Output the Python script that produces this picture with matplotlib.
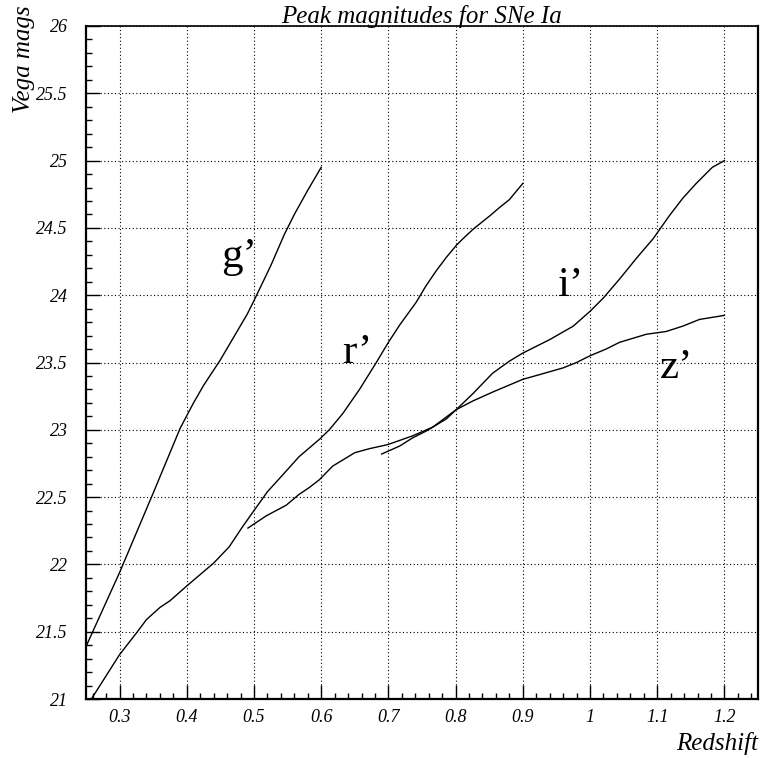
import matplotlib as mpl
import matplotlib.pyplot as plt
from matplotlib.ticker import MultipleLocator, FuncFormatter

# fonts: Times-like serif, italic everywhere except the band names
mpl.rcParams.update({
    'font.family': 'Liberation Serif',
    'font.style': 'italic',
    'mathtext.fontset': 'stix',
    'axes.unicode_minus': False,
})

# data (redshift, Vega mags)
g_z = [0.25, 0.30, 0.35, 0.39, 0.41, 0.425, 0.45, 0.47, 0.49, 0.50, 0.525, 0.545, 0.56, 0.58, 0.60]
g_m = [21.39, 21.94, 22.53, 23.01, 23.20, 23.33, 23.52, 23.69, 23.86, 23.96, 24.22, 24.45, 24.60, 24.78, 24.95]

r_z = [0.258, 0.30, 0.325, 0.34, 0.36, 0.375, 0.40, 0.44, 0.463, 0.483, 0.50, 0.52, 0.54, 0.567,
       0.5975, 0.612, 0.632, 0.657, 0.682, 0.70, 0.717, 0.741, 0.756, 0.771, 0.786, 0.801, 0.811,
       0.826, 0.851, 0.865, 0.88, 0.90]
r_m = [21.00, 21.33, 21.49, 21.59, 21.68, 21.73, 21.84, 22.01, 22.13, 22.28, 22.40, 22.54, 22.65, 22.80,
       22.93, 23.00, 23.12, 23.30, 23.50, 23.65, 23.78, 23.945, 24.07, 24.18, 24.28, 24.37, 24.42,
       24.49, 24.59, 24.65, 24.71, 24.83]

i_z = [0.69, 0.717, 0.736, 0.756, 0.786, 0.801, 0.826, 0.855, 0.88, 0.90, 0.94, 0.975, 1.0,
       1.02, 1.044, 1.07, 1.094, 1.118, 1.138, 1.158, 1.182, 1.20]
i_m = [22.82, 22.88, 22.94, 22.99, 23.08, 23.15, 23.27, 23.42, 23.51, 23.57, 23.67, 23.77, 23.88,
       23.98, 24.12, 24.28, 24.42, 24.59, 24.72, 24.83, 24.95, 25.00]

zz_z = [0.491, 0.518, 0.548, 0.567, 0.582, 0.5975, 0.617, 0.65, 0.672, 0.699, 0.736, 0.766, 0.801,
        0.826, 0.855, 0.90, 0.925, 0.96, 0.98, 1.0, 1.024, 1.044, 1.084, 1.113, 1.138, 1.163, 1.20]
zz_m = [22.27, 22.36, 22.44, 22.52, 22.57, 22.63, 22.73, 22.83, 22.86, 22.89, 22.955, 23.02, 23.15,
        23.215, 23.28, 23.375, 23.41, 23.46, 23.50, 23.55, 23.60, 23.65, 23.71, 23.73, 23.77, 23.82, 23.85]

band_names = ['g’', 'r’', 'i’', 'z’']
band_label_pos = [(0.451, 24.21), (0.6305, 23.494), (0.9513, 23.994), (1.104, 23.387)]

fig = plt.figure(figsize=(7.6, 7.58), dpi=100)
ax = fig.add_axes([86 / 760, 1 - 699 / 758, 672 / 760, 673 / 758])

for xs, ys in [(g_z, g_m), (r_z, r_m), (i_z, i_m), (zz_z, zz_m)]:
    ax.plot(xs, ys, color='black', lw=1.0)

for name, (tx, ty) in zip(band_names, band_label_pos):
    ax.text(tx, ty, name, fontsize=31, ha='left', va='baseline', fontstyle='normal')

ax.set_xlim(0.25, 1.25)
ax.set_ylim(21, 26)

# axis ticks ROOT-style: inside, bottom/left only
ax.xaxis.set_major_locator(MultipleLocator(0.1))
ax.xaxis.set_minor_locator(MultipleLocator(0.02))
ax.yaxis.set_major_locator(MultipleLocator(0.5))
ax.yaxis.set_minor_locator(MultipleLocator(0.1))
fmt = FuncFormatter(lambda v, p: '%g' % round(v, 2))
ax.xaxis.set_major_formatter(fmt)
ax.yaxis.set_major_formatter(fmt)
ax.tick_params(which='both', direction='in', top=False, right=False, width=1.0, color='black',
               labelsize=13)
ax.tick_params(which='major', length=10)
ax.tick_params(which='minor', length=4.5)
ax.tick_params(axis='x', which='major', pad=7)
ax.tick_params(axis='y', which='major', pad=13)

ax.grid(True, which='major', color='black', linestyle=(0, (1, 2.2)), lw=0.8)
ax.set_axisbelow(True)
for side in ['left', 'bottom', 'right']:
    ax.spines[side].set_linewidth(1.6)
ax.spines['top'].set_linewidth(1.2)

fig.text(422 / 760, 1 - 22.5 / 758, 'Peak magnitudes for SNe Ia', ha='center', va='baseline',
         fontsize=18)
fig.text(758 / 760, 1 - 750 / 758, 'Redshift', ha='right', va='baseline', fontsize=18)
fig.text(24 / 760, 1 - 5 / 758, 'Vega mags', ha='center', va='top', rotation=90, fontsize=18)

plt.savefig('out.png', dpi=100)
